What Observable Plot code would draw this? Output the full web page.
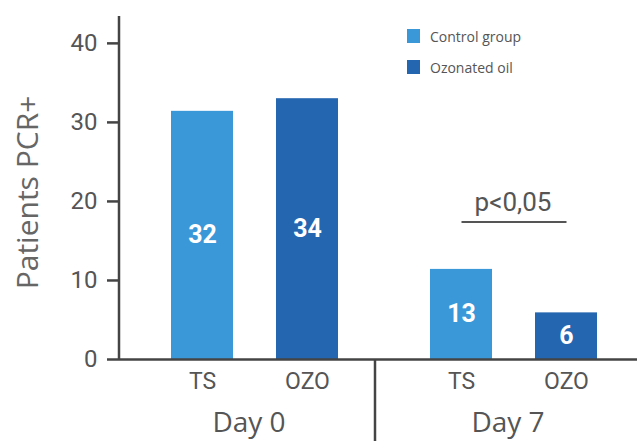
<!DOCTYPE html>
<html><head><meta charset="utf-8">
<script src="https://cdn.jsdelivr.net/npm/d3@7"></script>
<script src="https://cdn.jsdelivr.net/npm/@observablehq/plot@0.6"></script>
<style>
body{margin:0;background:#fff;}
#chart{position:relative;width:637px;height:441px;}
#legend{position:absolute;left:407px;top:27px;font-family:"Open Sans",sans-serif;font-size:14px;color:#555;}
.item{display:flex;align-items:center;height:18px;margin-bottom:13px;}
.sw{width:13px;height:14px;margin-right:10px;}
</style></head><body><div id="chart"><div id="legend"></div></div>
<script>
const days = ["Day 0","Day 0","Day 7","Day 7"];
const groups = ["TS","OZO","TS","OZO"];
const values = [31.4, 33.0, 11.4, 5.9];
const labels = ["32","34","13","6"];
const legendNames = ["Control group","Ozonated oil"];
const colors = ["#3a98d8","#2566b0"];
const yTicks = [0,10,20,30,40];
const yLabel = "Patients PCR+";
const pText = "p<0,05";
const pLevel = 17.4;
const pTextLevel = 19.8;
const yMax = 43.4;

const data = days.map((d,i)=>({day:d, group:groups[i], value:values[i], label:labels[i]}));
const bracket = [{day:"Day 7", from:"TS", to:"OZO", y:pLevel, ty:pTextLevel, text:pText}];
const cond = "Roboto, sans-serif";
const axisColor = "#444";

const plot = Plot.plot({
  width:637, height:441, marginLeft:119, marginRight:0, marginTop:16, marginBottom:82,
  style:{background:"transparent", fontFamily:"Open Sans, sans-serif", overflow:"visible"},
  fx:{domain:["Day 0","Day 7"], padding:0},
  x:{domain:["TS","OZO"], range:[170.7,338], paddingInner:0.41, paddingOuter:0},
  y:{domain:[0,yMax]},
  color:{domain:["TS","OZO"], range:colors},
  marks:[
    Plot.barY(data,{fx:"day", x:"group", y:"value", fill:"group"}),
    Plot.text(data,{fx:"day", x:"group", y:d=>d.value/2, text:"label", fill:"white", fontWeight:"bold", fontSize:25, fontFamily:cond}),
    Plot.ruleY([0],{stroke:axisColor, strokeWidth:2.5}),
    Plot.link(bracket,{fx:"day", x1:"from", x2:"to", y1:"y", y2:"y", stroke:"#555", strokeWidth:2}),
    Plot.text(bracket,{fx:"day", frameAnchor:"middle", y:"ty", text:"text", dx:5, fontSize:26, fill:"#555", fontFamily:cond}),
    Plot.axisY({ticks:yTicks, tickSize:12, tickPadding:10, fontSize:24, fontFamily:cond, color:"#555", stroke:axisColor, strokeWidth:2.5, label:null}),
    Plot.axisX({tickSize:0, tickPadding:13, fontSize:23, fontFamily:cond, color:"#555", label:null}),
    Plot.axisFx({anchor:"bottom", tickSize:0, tickPadding:53, fontSize:28, fontFamily:"Open Sans, sans-serif", color:"#555", label:null})
  ]
});
document.getElementById("chart").appendChild(plot);

const svg = d3.select(plot);
const fx = plot.scale("fx"), y = plot.scale("y");
const x0 = fx.apply("Day 0"), x7 = fx.apply("Day 7");
svg.append("line").attr("x1",x0).attr("x2",x0).attr("y1",y.apply(0)+1).attr("y2",y.apply(yMax))
  .attr("stroke",axisColor).attr("stroke-width",2.5);
svg.append("line").attr("x1",x7-3).attr("x2",x7-3).attr("y1",y.apply(0)).attr("y2",441)
  .attr("stroke",axisColor).attr("stroke-width",2.5);
svg.append("text").attr("transform",`translate(26,${(y.apply(0)+y.apply(yMax))/2+5}) rotate(-90)`)
  .attr("text-anchor","middle").attr("dominant-baseline","central")
  .attr("font-family","Open Sans, sans-serif").attr("font-size",30).attr("fill","#666").text(yLabel);

const legend = d3.select("#legend");
legendNames.forEach((n,i)=>{
  const it = legend.append("div").attr("class","item");
  it.append("div").attr("class","sw").style("background",colors[i]);
  it.append("span").text(n);
});
</script></body></html>
